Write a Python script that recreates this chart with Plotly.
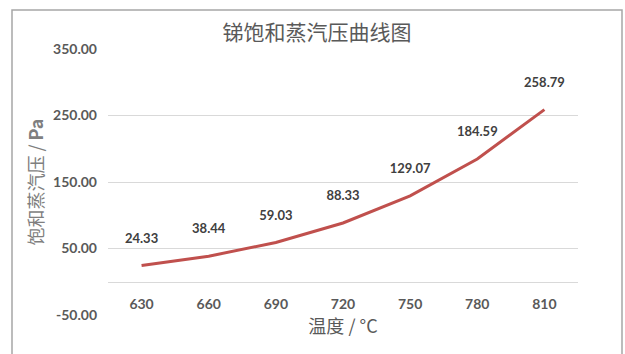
import plotly.graph_objects as go

# Antimony saturated vapour pressure vs temperature
temperatures = ["630", "660", "690", "720", "750", "780", "810"]
pressures = [24.33, 38.44, 59.03, 88.33, 129.07, 184.59, 258.79]
y_ticks = [-50, 50, 150, 250, 350]
y_tick_labels = ["-50.00", "50.00", "150.00", "250.00", "350.00"]

W, H = 625, 354
L, R, T, B = 108, 578, 49, 315  # plot area in pixels
Y_MIN, Y_MAX = -50, 350

fig = go.Figure()
fig.add_trace(go.Scatter(
    x=temperatures,
    y=pressures,
    mode="lines+markers+text",
    line=dict(color="#C0504D", width=3),
    marker=dict(size=30, color="rgba(0,0,0,0)"),
    text=[f"{v:.2f}" for v in pressures],
    textposition="top center",
    textfont=dict(family="Lato, sans-serif", size=13, color="#404040", weight="bold"),
    cliponaxis=False,
    hoverinfo="x+y",
))

# category axis sits on the y = 0 line
axis_pos = (0 - Y_MIN) / (Y_MAX - Y_MIN)

fig.update_layout(
    width=W, height=H,
    margin=dict(l=L, r=W - R, t=T, b=H - B, pad=0),
    paper_bgcolor="white",
    plot_bgcolor="white",
    showlegend=False,
    title=dict(
        text="锑饱和蒸汽压曲线图",
        x=317 / W, xanchor="center",
        y=1 - 33 / H, yanchor="middle",
        font=dict(family="Noto Sans CJK SC", size=21, color="#595959"),
    ),
    xaxis=dict(
        type="category",
        range=[-0.5, 6.5],
        anchor="free",
        position=axis_pos,
        showgrid=False,
        showline=True, linecolor="#D9D9D9", linewidth=1,
        ticks="",
        ticklabelstandoff=9,
        tickfont=dict(family="Lato, sans-serif", size=14, color="#595959", weight="bold"),
        title=dict(
            text="温度 / °C",
            font=dict(family="Noto Sans CJK SC", size=18, color="#595959"),
            standoff=6,
        ),
        zeroline=False,
    ),
    yaxis=dict(
        range=[Y_MIN, Y_MAX],
        tickvals=y_ticks,
        ticktext=y_tick_labels,
        showgrid=True, gridcolor="#D9D9D9", gridwidth=1,
        zeroline=False,
        showline=False,
        ticks="",
        ticklabelstandoff=10,
        tickfont=dict(family="Lato, sans-serif", size=14, color="#595959", weight="bold"),
        title=dict(
            text="饱和蒸汽压 / <b>Pa</b>",
            font=dict(family="Noto Sans CJK SC", size=18, color="#7F7F7F"),
            standoff=4,
        ),
    ),
    shapes=[dict(
        type="rect", xref="paper", yref="paper",
        x0=(12 - L) / (R - L), x1=(622 - L) / (R - L),
        y0=(B - 360) / (B - T), y1=(B - 10) / (B - T),
        line=dict(color="#A6A6A6", width=1.5),
        fillcolor="rgba(0,0,0,0)", layer="below",
    )],
)

fig.write_html("out.html")
